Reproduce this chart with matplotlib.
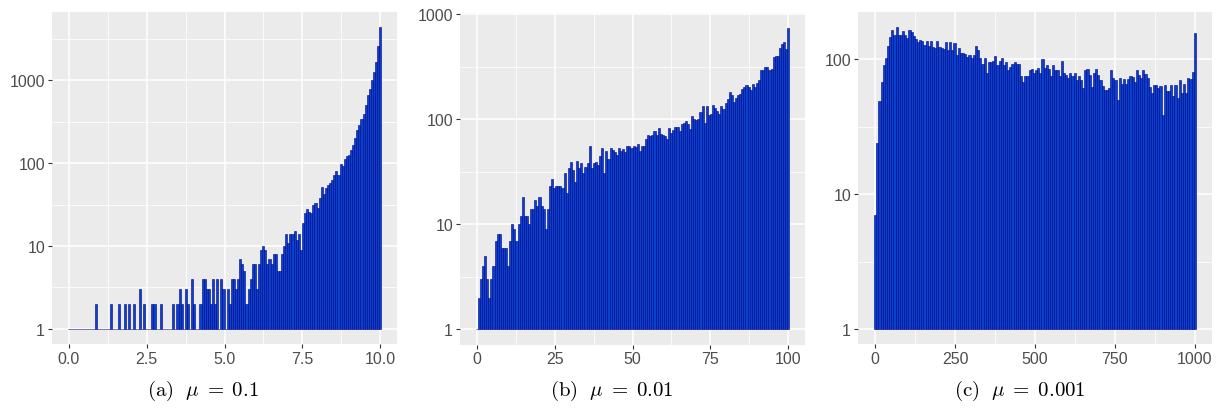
import numpy as np
import matplotlib
matplotlib.use("Agg")
import matplotlib.pyplot as plt
from matplotlib.ticker import FixedLocator, FixedFormatter, NullFormatter

plt.rcParams['mathtext.fontset'] = 'cm'
plt.rcParams['font.family'] = ['Liberation Sans', 'DejaVu Sans']

# ---------------- data ----------------
# (a) mu = 0.1 : values 0..10, 150 bins
a_xmax = 10.0
a_counts = [
    1, 1, 1, 1, 1, 1, 1, 1, 1, 1,
    1, 1, 1, 2, 1, 1, 1, 1, 1, 1,
    2, 1, 1, 1, 2, 1, 1, 2, 1, 2,
    1, 2, 1, 1, 3, 1, 2, 1, 1, 1,
    2, 2, 1, 1, 2, 1, 1, 1, 1, 1,
    2, 1, 2, 3, 2, 1, 3, 2, 1, 4,
    2, 1, 1, 2, 4, 4, 3, 3, 2, 4,
    2, 4, 1, 4, 3, 1, 3, 2, 4, 4,
    3, 4, 7, 6, 5, 2, 3, 4, 6, 6,
    3, 6, 9, 10, 9, 6, 7, 6, 8, 8,
    5, 5, 8, 10, 14, 11, 14, 14, 15, 12,
    14, 9, 19, 25, 28, 26, 25, 31, 33, 29,
    38, 52, 43, 50, 54, 57, 62, 72, 80, 72,
    99, 92, 113, 122, 125, 143, 165, 200, 250, 290,
    345, 395, 500, 660, 790, 1000, 1250, 1680, 2600, 4400,
]
a_xticks = [0, 2.5, 5, 7.5, 10]
a_xlabels = ["0.0", "2.5", "5.0", "7.5", "10.0"]
a_yticks = [1, 10, 100, 1000]
a_ylabels = ["1", "10", "100", "1000"]

# (b) mu = 0.01 : values 0..100, 150 bins
b_xmax = 100.0
b_counts = [
    1, 2, 3, 4, 5, 3, 2, 3, 4, 7,
    8, 8, 6, 6, 6, 4, 7, 10, 9, 7,
    10, 12, 18, 12, 12, 10, 14, 14, 17, 15,
    18, 15, 14, 9, 14, 23, 27, 22, 23, 23,
    23, 22, 31, 20, 34, 39, 33, 25, 40, 34,
    38, 31, 35, 38, 55, 34, 38, 39, 37, 45,
    53, 31, 50, 42, 53, 51, 49, 46, 53, 50,
    52, 49, 55, 56, 53, 56, 54, 58, 50, 56,
    55, 65, 70, 69, 70, 77, 70, 83, 72, 70,
    69, 65, 82, 74, 78, 84, 84, 77, 89, 92,
    95, 90, 80, 107, 100, 99, 100, 116, 134, 92,
    134, 109, 113, 135, 128, 120, 113, 134, 126, 142,
    155, 180, 168, 146, 158, 168, 172, 194, 203, 212,
    200, 190, 215, 203, 220, 237, 295, 295, 310, 314,
    295, 300, 390, 400, 400, 480, 520, 545, 465, 735,
]
b_xticks = [0, 25, 50, 75, 100]
b_xlabels = ["0", "25", "50", "75", "100"]
b_yticks = [1, 10, 100, 1000]
b_ylabels = ["1", "10", "100", "1000"]

# (c) mu = 0.001 : values 0..1000, 150 bins
c_xmax = 1000.0
c_counts = [
    7, 24, 49, 68, 91, 102, 127, 147, 165, 151,
    174, 151, 151, 163, 151, 145, 165, 160, 150, 143,
    135, 140, 138, 129, 138, 127, 138, 124, 121, 138,
    124, 121, 120, 135, 118, 135, 118, 132, 108, 121,
    112, 112, 110, 104, 108, 102, 108, 126, 118, 102,
    93, 102, 79, 96, 96, 98, 106, 91, 98, 102,
    91, 96, 83, 88, 93, 95, 93, 93, 76, 68,
    75, 75, 83, 85, 79, 83, 87, 79, 100, 87,
    91, 85, 76, 91, 84, 83, 76, 97, 80, 77,
    73, 79, 75, 79, 71, 76, 70, 61, 84, 85,
    77, 62, 80, 85, 77, 70, 64, 59, 59, 61,
    83, 73, 70, 50, 73, 66, 72, 66, 72, 76,
    74, 68, 83, 77, 73, 83, 78, 73, 63, 56,
    65, 65, 61, 64, 39, 65, 58, 58, 65, 54,
    65, 52, 70, 56, 66, 56, 73, 72, 81, 158,
]
c_xticks = [0, 250, 500, 750, 1000]
c_xlabels = ["0", "250", "500", "750", "1000"]
c_yticks = [1, 10, 100]
c_ylabels = ["1", "10", "100"]

captions = [r"$\mathrm{(a)}\ \ \mu\;=\;0.1$",
            r"$\mathrm{(b)}\ \ \mu\;=\;0.01$",
            r"$\mathrm{(c)}\ \ \mu\;=\;0.001$"]

panels = [
    (a_xmax, a_counts, a_xticks, a_xlabels, a_yticks, a_ylabels),
    (b_xmax, b_counts, b_xticks, b_xlabels, b_yticks, b_ylabels),
    (c_xmax, c_counts, c_xticks, c_xlabels, c_yticks, c_ylabels),
]

# ---------------- layout ----------------
W, H = 1221, 410
fig = plt.figure(figsize=(W / 100, H / 100), dpi=100)
boxes_px = [(52, 13, 397, 345), (460, 14, 805, 345.5), (858, 13, 1212, 345)]
caption_x = [203, 612, 1020]

FILL = '#0842CC'
EDGE = '#000088'
BG = '#EBEBEB'

for (xmax, counts, xt, xl, yt, yl), (x0, y0, x1, y1), cx, cap in zip(
        panels, boxes_px, caption_x, captions):
    ax = fig.add_axes([x0 / W, 1 - y1 / H, (x1 - x0) / W, (y1 - y0) / H])
    counts = np.asarray(counts, dtype=float)
    n = len(counts)
    width = xmax / (n - 1)
    centers = np.linspace(0, xmax, n)
    ax.set_yscale('log')
    ax.bar(centers, counts - 1, bottom=1, width=width, color=FILL,
           edgecolor=EDGE, linewidth=0.4, zorder=3)

    # ggplot-like expansion (5%)
    lo, hi = -width / 2, xmax + width / 2
    r = hi - lo
    ax.set_xlim(lo - 0.05 * r, hi + 0.05 * r)
    L = np.log10(counts.max())
    ax.set_ylim(10 ** (-0.05 * L), 10 ** (1.05 * L))

    ax.set_facecolor(BG)
    for s in ax.spines.values():
        s.set_visible(False)

    ax.xaxis.set_major_locator(FixedLocator(xt))
    ax.xaxis.set_major_formatter(FixedFormatter(xl))
    xm = [(xt[i] + xt[i + 1]) / 2 for i in range(len(xt) - 1)]
    ax.xaxis.set_minor_locator(FixedLocator(xm))
    ax.xaxis.set_minor_formatter(NullFormatter())

    ax.yaxis.set_major_locator(FixedLocator(yt))
    ax.yaxis.set_major_formatter(FixedFormatter(yl))
    ym = [v * np.sqrt(10) for v in yt]
    ax.yaxis.set_minor_locator(FixedLocator(ym))
    ax.yaxis.set_minor_formatter(NullFormatter())

    ax.grid(True, which='major', color='white', linewidth=1.1, zorder=0)
    ax.grid(True, which='minor', color='white', linewidth=0.55, zorder=0)
    ax.set_axisbelow(True)

    ax.tick_params(which='major', length=3, width=0.8, color='#333333',
                   labelcolor='#4D4D4D', labelsize=11.5, pad=2)
    ax.tick_params(which='minor', length=0)

    fig.text(cx / W, 1 - 391 / H, cap, ha='center', va='center', fontsize=15)

fig.savefig("out.png", dpi=100)
